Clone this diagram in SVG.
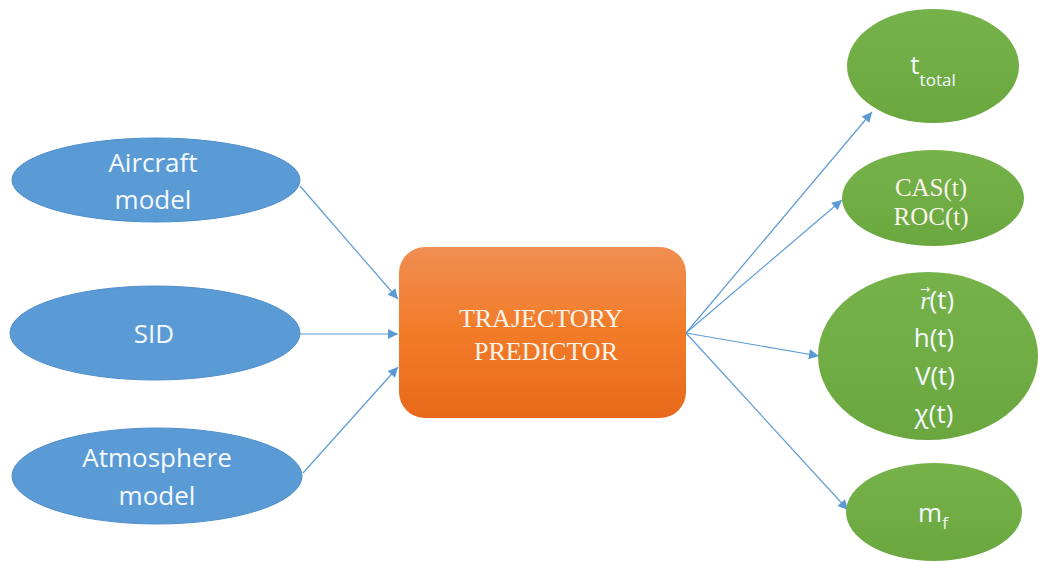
<svg xmlns="http://www.w3.org/2000/svg" width="1038" height="561" viewBox="0 0 1038 561">
  <defs>
    <linearGradient id="orangeFill" x1="0" y1="0" x2="0" y2="1">
      <stop offset="0" stop-color="#f08e52"/>
      <stop offset="0.5" stop-color="#f27b28"/>
      <stop offset="1" stop-color="#e8691b"/>
    </linearGradient>
    <linearGradient id="greenFill" x1="0" y1="0" x2="0" y2="1">
      <stop offset="0" stop-color="#76b24a"/>
      <stop offset="1" stop-color="#6aa83f"/>
    </linearGradient>
    <marker id="arrow" viewBox="0 0 10 10" refX="10" refY="5" markerWidth="12" markerHeight="10" markerUnits="userSpaceOnUse" orient="auto">
      <path d="M0,0 L10,5 L0,10 z" fill="#5b9bd5"/>
    </marker>
  </defs>
  <style>
    .input { fill: #5b9bd5; stroke: #4f8ecb; stroke-width: 1; }
    .output { fill: url(#greenFill); }
    .sans { font-family: "Open Sans", "Noto Sans", "Liberation Sans", sans-serif; fill: #f4f9ff; font-size: 26px; text-anchor: middle; }
    .serif { font-family: "Liberation Serif", "DejaVu Serif", serif; fill: #fbf4ea; font-size: 26px; text-anchor: middle; }
    .link { stroke: #5b9bd5; stroke-width: 1.2; fill: none; marker-end: url(#arrow); }
    .vec { font-family: "DejaVu Sans", sans-serif; font-size: 12px; }
  </style>

  <rect width="1038" height="561" fill="#ffffff"/>

  <!-- connectors -->
  <g id="connectors">
    <line class="link" x1="300" y1="186" x2="398" y2="299"/>
    <line class="link" x1="300" y1="334" x2="398" y2="334"/>
    <line class="link" x1="303" y1="473" x2="398" y2="367"/>
    <line class="link" x1="686" y1="333" x2="872" y2="112"/>
    <line class="link" x1="686" y1="333" x2="842" y2="200"/>
    <line class="link" x1="686" y1="333" x2="819" y2="356"/>
    <line class="link" x1="686" y1="333" x2="848" y2="510"/>
  </g>

  <!-- inputs -->
  <g id="aircraft-model">
    <ellipse class="input" cx="156" cy="180" rx="144" ry="42"/>
    <text class="sans" x="153" y="172">Aircraft</text>
    <text class="sans" x="153" y="209">model</text>
  </g>
  <g id="sid">
    <ellipse class="input" cx="155" cy="333" rx="145" ry="47"/>
    <text class="sans" x="154" y="343">SID</text>
  </g>
  <g id="atmosphere-model">
    <ellipse class="input" cx="157" cy="476" rx="145" ry="48"/>
    <text class="sans" x="157" y="467">Atmosphere</text>
    <text class="sans" x="157" y="505">model</text>
  </g>

  <!-- central block -->
  <g id="trajectory-predictor">
    <rect x="399" y="247" width="287" height="171" rx="26" ry="26" fill="url(#orangeFill)"/>
    <text class="serif" x="541" y="327">TRAJECTORY</text>
    <text class="serif" x="546" y="360">PREDICTOR</text>
  </g>

  <!-- outputs -->
  <g id="t-total">
    <ellipse class="output" cx="933" cy="66" rx="86" ry="57"/>
    <text class="sans" x="933" y="74">t<tspan dy="12" style="font-size:17px">total</tspan></text>
  </g>
  <g id="cas-roc">
    <ellipse class="output" cx="933" cy="198" rx="91" ry="48"/>
    <text class="serif" x="931" y="196" style="font-size:25px">CAS(t)</text>
    <text class="serif" x="931" y="225" style="font-size:25px">ROC(t)</text>
  </g>
  <g id="state-vector">
    <ellipse class="output" cx="928" cy="356" rx="110" ry="84"/>
    <!-- position vector: italic r, arrow raised over it, then (t) back on the baseline -->
    <text class="sans" x="937" y="309"><tspan style="font-family:'Liberation Serif',serif;font-style:italic;font-size:25px">r</tspan><tspan class="vec" dx="-10" dy="-16">→</tspan><tspan dx="-0.5" dy="16">(t)</tspan></text>
    <text class="sans" x="934" y="347">h(t)</text>
    <text class="sans" x="935" y="385">V(t)</text>
    <text class="sans" x="934" y="423">χ(t)</text>
  </g>
  <g id="fuel-mass">
    <ellipse class="output" cx="934" cy="512" rx="88" ry="49"/>
    <text class="sans" x="933" y="522">m<tspan dy="7" style="font-size:17px">f</tspan></text>
  </g>
</svg>
